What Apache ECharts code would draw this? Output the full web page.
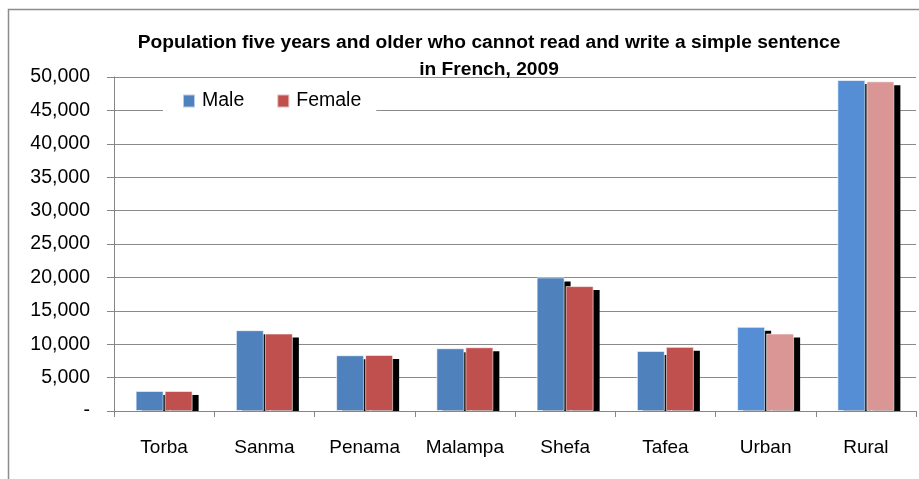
<!DOCTYPE html>
<html>
<head>
<meta charset="utf-8">
<script src="https://cdn.jsdelivr.net/npm/echarts@6/dist/echarts.min.js"></script>
<style>
html,body{margin:0;padding:0;background:#fff;}
#chart{width:919px;height:479px;}
</style>
</head>
<body>
<div id="chart"></div>
<script>
const categories = ['Torba', 'Sanma', 'Penama', 'Malampa', 'Shefa', 'Tafea', 'Urban', 'Rural'];
const maleValues = [3000, 12100, 8350, 9400, 20000, 9000, 12600, 49550];
const femaleValues = [3000, 11600, 8400, 9550, 18700, 9600, 11600, 49350];
const yTickLabels = ['-', '5,000', '10,000', '15,000', '20,000', '25,000', '30,000', '35,000', '40,000', '45,000', '50,000'];
const titleText = 'Population five years and older who cannot read and write a simple sentence\nin French, 2009';

const FONT = 'Liberation Sans';
const maleColor = '#4F81BD', femaleColor = '#C0504D';
const maleLight = '#558ED5', femaleLight = '#D99694';
const lightCats = ['Urban', 'Rural'];

const BW = 28;
function styled(vals, base, light) {
  return vals.map((v, i) => lightCats.includes(categories[i]) ? { value: v, itemStyle: { color: light } } : v);
}
const shadowData = categories.map((c, i) => [i, maleValues[i], femaleValues[i]]);

const chart = echarts.init(document.getElementById('chart'));
chart.setOption({
  animation: false,
  backgroundColor: '#fff',
  title: {
    text: titleText,
    left: 484, top: 24, textAlign: 'center',
    textStyle: { fontFamily: FONT, fontWeight: 'bold', fontSize: 19.2, lineHeight: 27, color: '#000' }
  },
  graphic: [{
    type: 'rect', shape: { x: 8.5, y: 9.5, width: 1000, height: 1000 },
    style: { fill: 'none', stroke: '#8c8c8c', lineWidth: 1.5 }, silent: true, z: 0
  }],
  legend: {
    data: ['Male', 'Female'],
    left: 163, top: 83,
    padding: [8, 15, 8, 19],
    backgroundColor: '#fff',
    itemWidth: 12, itemHeight: 13, itemGap: 32,
    icon: 'rect',
    textStyle: { fontFamily: FONT, fontSize: 19.5, color: '#000', padding: [0, 0, 0, 2] }
  },
  grid: { left: 114, right: 3, top: 77, bottom: 68, containLabel: false },
  xAxis: {
    type: 'category', data: categories,
    axisLine: { lineStyle: { color: '#868686', width: 1 } },
    axisTick: { show: true, length: 6, lineStyle: { color: '#868686' } },
    axisLabel: { interval: 0, margin: 27, fontFamily: FONT, fontSize: 19, color: '#000' },
    splitLine: { show: false }
  },
  yAxis: {
    type: 'value', min: 0, max: 50000, interval: 5000,
    axisLine: { show: true, lineStyle: { color: '#868686' } },
    axisTick: { show: true, length: 7, lineStyle: { color: '#868686' } },
    axisLabel: {
      margin: 24, fontFamily: FONT, fontSize: 19.5, color: '#000',
      formatter: v => yTickLabels[Math.round(v / 5000)]
    },
    splitLine: { lineStyle: { color: '#8a8a8a', width: 1 } }
  },
  series: [
    {
      type: 'custom', name: 'shadow', z: 1, silent: true,
      data: shadowData,
      encode: { x: 0, y: [1, 2] },
      renderItem: function (params, api) {
        const idx = api.value(0);
        const base = api.coord([idx, 0]);
        const cx = base[0], y0 = base[1];
        const ym = api.coord([idx, api.value(1)])[1];
        const yf = api.coord([idx, api.value(2)])[1];
        const off = 6, offY = 4;
        return {
          type: 'group',
          children: [
            { type: 'rect', shape: { x: cx - BW - 0.5 + off, y: ym + offY, width: BW, height: y0 - ym - offY }, style: { fill: '#000' } },
            { type: 'rect', shape: { x: cx + 0.5 + off, y: yf + offY, width: BW, height: y0 - yf - offY }, style: { fill: '#000' } }
          ]
        };
      }
    },
    {
      name: 'Male', type: 'bar', z: 2, barWidth: BW, barGap: '3.6%',
      itemStyle: { color: maleColor, borderColor: 'rgba(255,255,255,0.6)', borderWidth: 1 },
      data: styled(maleValues, maleColor, maleLight)
    },
    {
      name: 'Female', type: 'bar', z: 2, barWidth: BW, barGap: '3.6%',
      itemStyle: { color: femaleColor, borderColor: 'rgba(255,255,255,0.6)', borderWidth: 1 },
      data: styled(femaleValues, femaleColor, femaleLight)
    }
  ]
});
</script>
</body>
</html>
